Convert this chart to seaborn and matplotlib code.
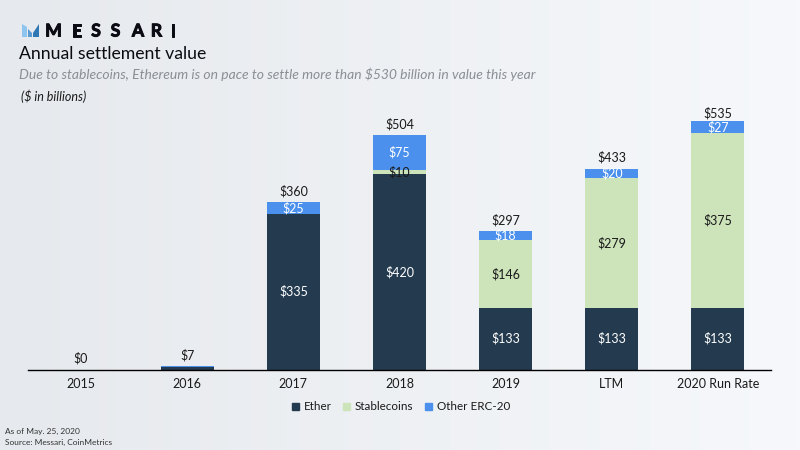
import numpy as np
import pandas as pd
import seaborn as sns
import matplotlib.pyplot as plt
import matplotlib.patheffects as pe
from matplotlib.patches import Polygon

# values, $ billions
periods = ['2015', '2016', '2017', '2018', '2019', 'LTM', '2020 Run Rate']
ether = [0, 5, 335, 420, 133, 133, 133]
stablecoins = [0, 0, 0, 10, 146, 279, 375]
other_erc20 = [0, 2, 25, 75, 18, 20, 27]
totals = [0, 7, 360, 504, 297, 433, 535]

df = pd.DataFrame({'period': periods, 'Ether': ether,
                   'Stablecoins': stablecoins, 'Other ERC-20': other_erc20})
colors = {'Ether': '#233a4f', 'Stablecoins': '#cde4bb', 'Other ERC-20': '#4a90ec'}

sns.set_theme(style='white')
plt.rcParams['font.family'] = ['Lato', 'DejaVu Sans']

W, H = 800, 450
fig = plt.figure(figsize=(8, 4.5), dpi=100)

# slide background, slightly darker on the left
bg = fig.add_axes([0, 0, 1, 1], zorder=0)
bg.imshow(np.linspace(0, 1, 256).reshape(1, -1), aspect='auto', extent=(0, 1, 0, 1),
          cmap=sns.blend_palette(['#e6e9ed', '#f6f8fb'], as_cmap=True))
bg.axis('off')


def rect(x0, y0, x1, y1):
    return [x0 / W, 1 - y1 / H, (x1 - x0) / W, (y1 - y0) / H]


ax = fig.add_axes(rect(28, 100, 771, 369.5), zorder=1)
ax.patch.set_alpha(0)

bottom = np.zeros(len(df))
for name in colors:
    sns.barplot(data=df, x='period', y=name, color=colors[name], saturation=1,
                width=0.5, bottom=bottom, ax=ax, label=name, legend=False, linewidth=0)
    bottom += df[name].to_numpy()

ax.set_xlim(-0.5, 6.5)
ax.set_ylim(0, 580)
ax.set_xlabel('')
ax.set_ylabel('')
ax.set_yticks([])
ax.tick_params(axis='x', length=0, pad=6, labelsize=9, labelcolor='#1a1a1a')
sns.despine(ax=ax, left=True)
ax.spines['bottom'].set_color('black')
ax.spines['bottom'].set_linewidth(1.0)

# segment labels
for i in range(len(df)):
    base = 0
    for name in colors:
        v = df[name][i]
        if v >= 10:
            col = '#1a1a1a' if name == 'Stablecoins' or v == 10 else 'white'
            ax.text(i, base + v / 2, f'${v}', ha='center', va='center',
                    fontsize=9, color=col)
        base += v
    gap = 4 if i == 6 else 10
    ax.text(i, max(base, totals[i]) + gap, f'${totals[i]}', ha='center', va='bottom',
            fontsize=9, color='#1a1a1a')

handles = [plt.Rectangle((0, 0), 1, 1, color=colors[n]) for n in colors]
fig.legend(handles, list(colors), loc='center', bbox_to_anchor=(401 / W, 1 - 407 / H),
           ncol=3, frameon=False, fontsize=8.4, handlelength=0.6, handleheight=0.6,
           handletextpad=0.4, columnspacing=1.0, labelcolor='#1a1a1a')

# header, wordmark letters placed one by one for the wide tracking
for ch, cx in zip('MESSARI', [53.5, 77, 96, 115.5, 138, 156.5, 173]):
    fig.text(cx / W, 1 - 31 / H, ch, fontsize=12.7, fontweight='bold', color='#0b0b14',
             ha='center', va='center',
             path_effects=[pe.withStroke(linewidth=0.7, foreground='#0b0b14')])
for pts, col in [([(22, 24), (27, 27), (27, 37), (22, 37)], '#8ec5ee'),
                 ([(28, 29), (32, 33), (32, 37), (28, 37)], '#5b9bd0'),
                 ([(33, 33), (39, 24), (39, 37), (33, 37)], '#2f78b5')]:
    fig.add_artist(Polygon([(x / W, 1 - y / H) for x, y in pts], closed=True,
                           color=col, lw=0, transform=fig.transFigure))
fig.text(19 / W, 1 - 54 / H, 'Annual settlement value', fontsize=12.7, color='#0b0b14', va='center')
fig.text(19 / W, 1 - 74.5 / H, 'Due to stablecoins, Ethereum is on pace to settle more than $530 billion in value this year',
         fontsize=10, style='italic', color='#8a8f94', va='center')
fig.text(21 / W, 1 - 96 / H, '($ in billions)', fontsize=9, style='italic', color='#1a1a1a', va='center')

# footnotes
fig.text(5 / W, 1 - 431 / H, 'As of May. 25, 2020', fontsize=6, color='#333333', va='center')
fig.text(5 / W, 1 - 442 / H, 'Source: Messari, CoinMetrics', fontsize=6, color='#333333', va='center')

fig.savefig('out.png', dpi=100)
